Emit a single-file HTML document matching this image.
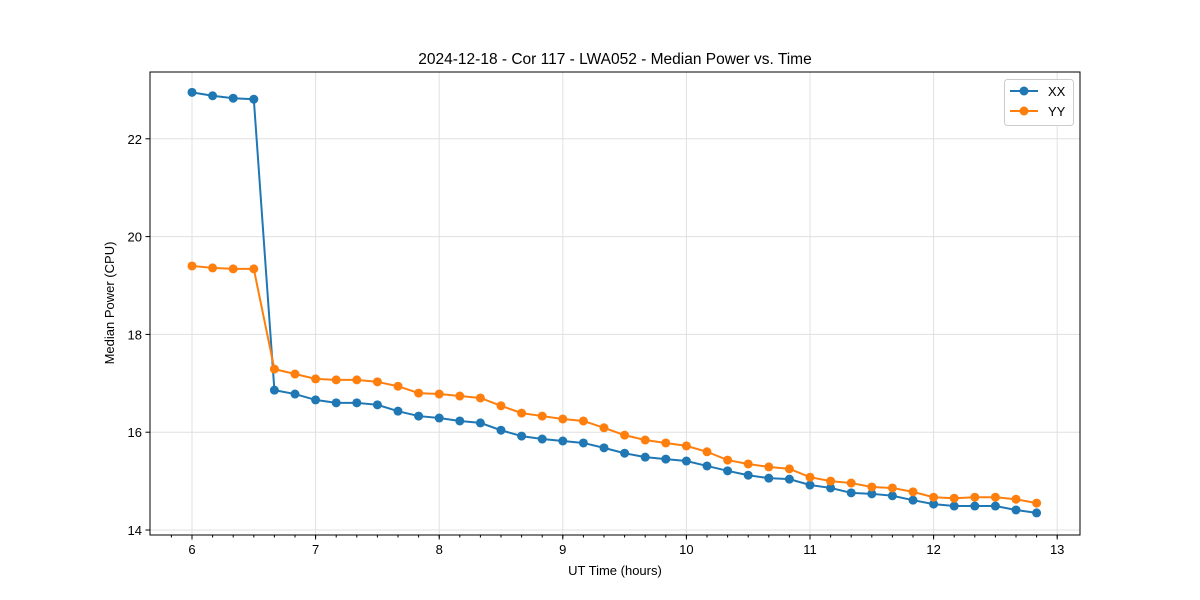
<!DOCTYPE html>
<html><head><meta charset="utf-8"><style>body{margin:0;background:#fff}svg{display:block;font-family:"Liberation Sans","DejaVu Sans",sans-serif}</style></head>
<body>
<svg id="chart" width="1200" height="600">
<rect width="1200" height="600" fill="#fff"/>
<text x="615" y="64" text-anchor="middle" font-size="15.5">2024-12-18 - Cor 117 - LWA052 - Median Power vs. Time</text>
<text x="615" y="575" text-anchor="middle" font-size="13">UT Time (hours)</text>
<text transform="translate(114,303) rotate(-90)" text-anchor="middle" font-size="13">Median Power (CPU)</text>
<g id="grid"></g><g id="axes"></g><g id="series"></g>
<g>
<rect x="1004.5" y="79.5" width="69" height="46" rx="3" fill="#fff" stroke="#ccc"/>
<line x1="1010" y1="91" x2="1038" y2="91" stroke="#1f77b4" stroke-width="2"/><circle cx="1024" cy="91" r="4.5" fill="#1f77b4"/>
<text x="1048" y="96" font-size="13">XX</text>
<line x1="1010" y1="111" x2="1038" y2="111" stroke="#ff7f0e" stroke-width="2"/><circle cx="1024" cy="111" r="4.5" fill="#ff7f0e"/>
<text x="1048" y="116" font-size="13">YY</text>
</g>
</svg>
<script>
const xx=[22.95,22.88,22.83,22.81,16.86,16.78,16.66,16.60,16.60,16.56,16.43,16.33,16.29,16.23,16.19,16.04,15.92,15.86,15.82,15.78,15.68,15.57,15.49,15.45,15.41,15.31,15.21,15.12,15.06,15.04,14.92,14.86,14.76,14.74,14.70,14.61,14.53,14.49,14.49,14.49,14.41,14.35];
const yy=[19.40,19.36,19.34,19.34,17.29,17.19,17.09,17.07,17.07,17.03,16.94,16.80,16.78,16.74,16.70,16.54,16.39,16.33,16.27,16.23,16.09,15.94,15.84,15.78,15.72,15.60,15.43,15.35,15.29,15.25,15.08,15.00,14.96,14.88,14.86,14.78,14.67,14.65,14.67,14.67,14.63,14.55];
const times=xx.map((_,i)=>6+i/6);
const xTicks=[6,7,8,9,10,11,12,13];
const yTicks=[14,16,18,20,22];
const L=150,R=1080,T=72,B=535;
const X=v=>192+(v-6)*123.6, Y=v=>530-(v-14)*48.9;
const NS="http://www.w3.org/2000/svg";
function mk(t,a,p){const e=document.createElementNS(NS,t);for(const k in a)e.setAttribute(k,a[k]);p.appendChild(e);return e;}
const g=document.getElementById('grid'),ax=document.getElementById('axes'),s=document.getElementById('series');
xTicks.forEach(v=>{const x=X(v);
const gl=mk('line',{x1:x,x2:x,y1:T,y2:B,stroke:'#e0e0e0','stroke-width':1},g);

mk('line',{x1:x,x2:x,y1:B,y2:B+4.5,stroke:'#000'},ax);
const t=mk('text',{x:x,y:B+19,'text-anchor':'middle','font-size':13},ax);t.textContent=v;
});
for(let v=5+5/6;v<13.1;v+=1/6){const x=X(v);if(x>L&&x<R)mk('line',{x1:x,x2:x,y1:B,y2:B+2.5,stroke:'#000'},ax);}
yTicks.forEach(v=>{const y=Y(v);
const gl=mk('line',{x1:L,x2:R,y1:y,y2:y,stroke:'#e0e0e0','stroke-width':1},g);

mk('line',{x1:L-4.5,x2:L,y1:y,y2:y,stroke:'#000'},ax);
const t=mk('text',{x:L-8,y:y+5,'text-anchor':'end','font-size':13},ax);t.textContent=v;
});
const fr=mk('rect',{x:L,y:T,width:R-L,height:B-T,fill:'none',stroke:'#000','stroke-width':1},ax);

function draw(d,c,n){const p=mk('polyline',{points:d.map((v,i)=>X(times[i])+','+Y(v)).join(' '),fill:'none',stroke:c,'stroke-width':2},s);

d.forEach((v,i)=>{const m=mk('circle',{cx:X(times[i]),cy:Y(v),r:4.5,fill:c},s);
});}
draw(xx,'#1f77b4','xx');draw(yy,'#ff7f0e','yy');
</script>
</body></html>
